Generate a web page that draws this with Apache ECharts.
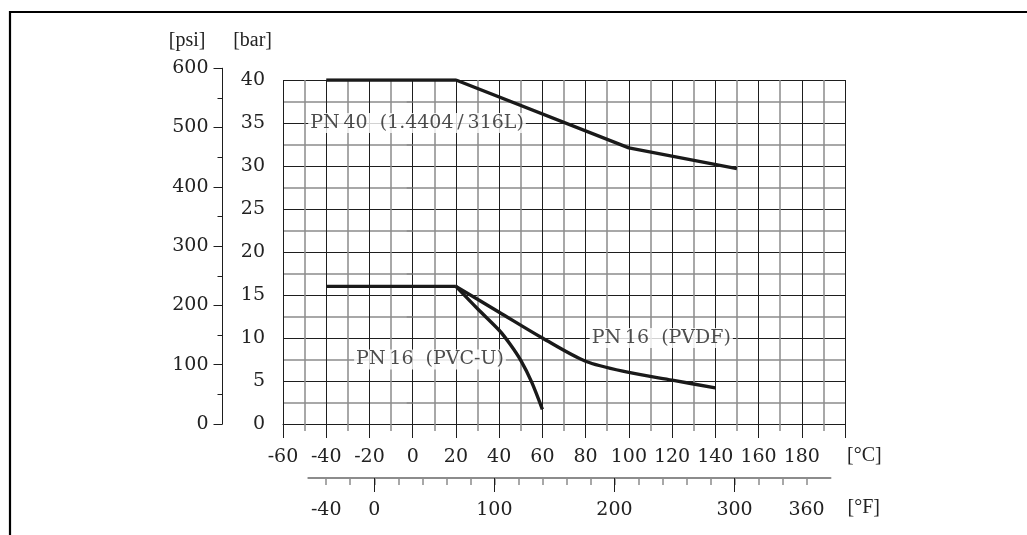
<!DOCTYPE html>
<html>
<head>
<meta charset="utf-8">
<script src="https://cdn.jsdelivr.net/npm/echarts@6/dist/echarts.min.js"></script>
<style>
html,body{margin:0;padding:0;background:#fff;}
#chart{width:1027px;height:535px;}
</style>
</head>
<body>
<div id="chart"></div>
<script>
// ---- data ----
const celsiusRange = [-60, 200];
const barRange = [0, 40];
const psiRange = [0, 600];
const fahrenheitRange = [-55, 380];
const fahrenheitTicks = [-40,-20,0,20,40,60,80,100,120,140,160,180,200,220,240,260,280,300,320,340,360];
const fahrenheitMajorTicks = [0,100,200,300];
const fahrenheitLabels = [-40,0,100,200,300,360];
const unitNames = {psi: '[psi]', bar: '[bar]', celsius: '[°C]', fahrenheit: '[°F]'};

const pn40 = [[-40,40],[20,40],[100,32.1],[150,29.7]];
const pn16Flat = [[-40,16],[20,16]];
const pn16PvcU = [[20,16],[30,13.4],[40,10.9],[45,9.3],[50,7.4],[55,4.9],[60,1.7]];
const pn16Pvdf = [[20,16],[40,13],[60,10],[80,7.3],[100,6],[120,5.1],[140,4.2]];
const annotations = [
  [2, 35, 'PN\u200940  (1.4404\u2009/\u2009316L)'],
  [115, 10, 'PN\u200916  (PVDF)'],
  [8, 7.5, 'PN\u200916  (PVC-U)']
];

// ---- layout ----
const W = 1027, H = 535;
const mainLeft = 283, mainRight = 182, mainTop = 80, mainBottom = 111;
const mainWidth = W - mainLeft - mainRight;
const mainHeight = H - mainTop - mainBottom;
const pxPerC = mainWidth / (celsiusRange[1] - celsiusRange[0]);
const pxPerBar = mainHeight / (barRange[1] - barRange[0]);
const psiPerBar = 14.5038;
const psiHeight = (psiRange[1] - psiRange[0]) / psiPerBar * pxPerBar;
const fToC = f => (f - 32) / 1.8;
const fLeft = mainLeft + (fToC(fahrenheitRange[0]) - celsiusRange[0]) * pxPerC;
const fWidth = (fToC(fahrenheitRange[1]) - fToC(fahrenheitRange[0])) * pxPerC;
const fAxisY = 478;
const cAxisY = H - mainBottom;
const psiAxisX = 222.5;

const txt = '#222';
const numFont = 'DejaVu Serif';
const unitFont = 'Liberation Serif';
const major = '#1e1e1e';
const minor = '#8c8c8c';
const lineColor = '#1a1a1a';

const chart = echarts.init(document.getElementById('chart'), null, {renderer:'canvas'});

const lineSeries = (data, smooth) => ({
  type: 'line', xAxisIndex: 0, yAxisIndex: 0, data: data,
  showSymbol: false, symbol: 'none', smooth: smooth ? 0.3 : false,
  lineStyle: {color: lineColor, width: 3.4, cap: 'butt', join: 'round'},
  z: 5, animation: false, silent: true
});

const unitText = (text, x, y, align) => ({
  type: 'text', silent: true, z: 10, x: x, y: y,
  style: {text: text, fill: txt, font: '20px "' + unitFont + '"', align: align, verticalAlign: 'middle'}
});

chart.setOption({
  animation: false,
  backgroundColor: '#fff',
  grid: [
    {left: mainLeft, right: mainRight, top: mainTop, bottom: mainBottom},
    {left: psiAxisX, width: 10, top: H - mainBottom - psiHeight, bottom: mainBottom},
    {left: fLeft, width: fWidth, top: fAxisY - 2, bottom: H - fAxisY}
  ],
  xAxis: [
    {
      type: 'value', gridIndex: 0, min: celsiusRange[0], max: celsiusRange[1], interval: 20,
      position: 'bottom',
      axisLine: {show: true, onZero: false, lineStyle: {color: major, width: 1}},
      axisTick: {show: true, length: 14, lineStyle: {color: major, width: 1}},
      minorTick: {show: true, splitNumber: 2, length: 7, lineStyle: {color: minor, width: 1.5}},
      splitLine: {show: true, lineStyle: {color: major, width: 1}},
      minorSplitLine: {show: true, lineStyle: {color: minor, width: 1.5}},
      axisLabel: {show: true, margin: 24, showMaxLabel: false, color: txt, fontFamily: numFont, fontSize: 19}
    },
    {
      type: 'value', gridIndex: 1, show: false, min: 0, max: 1
    },
    {
      type: 'value', gridIndex: 2, min: fahrenheitRange[0], max: fahrenheitRange[1],
      position: 'bottom',
      axisLine: {show: true, onZero: false, lineStyle: {color: minor, width: 1.8}},
      axisTick: {show: true, length: 7, customValues: fahrenheitTicks, lineStyle: {color: minor, width: 1.5}},
      splitLine: {show: false},
      axisLabel: {show: true, margin: 23, customValues: fahrenheitLabels, color: txt, fontFamily: numFont, fontSize: 19}
    },
    {
      type: 'value', gridIndex: 2, min: fahrenheitRange[0], max: fahrenheitRange[1],
      position: 'bottom',
      axisLine: {show: false},
      axisTick: {show: true, length: 14, customValues: fahrenheitMajorTicks, lineStyle: {color: major, width: 1}},
      splitLine: {show: false},
      axisLabel: {show: false}
    }
  ],
  yAxis: [
    {
      type: 'value', gridIndex: 0, min: barRange[0], max: barRange[1], interval: 5,
      axisLine: {show: false},
      axisTick: {show: true, length: 12, lineStyle: {color: major, width: 1}},
      minorTick: {show: true, splitNumber: 2, length: 6, lineStyle: {color: minor, width: 1.5}},
      splitLine: {show: true, lineStyle: {color: major, width: 1}},
      minorSplitLine: {show: true, lineStyle: {color: minor, width: 1.5}},
      axisLabel: {show: true, margin: 18, color: txt, fontFamily: numFont, fontSize: 19}
    },
    {
      type: 'value', gridIndex: 1, min: psiRange[0], max: psiRange[1], interval: 100,
      axisLine: {show: true, lineStyle: {color: major, width: 1}},
      axisTick: {show: true, length: 9, lineStyle: {color: major, width: 1}},
      minorTick: {show: true, splitNumber: 2, length: 5, lineStyle: {color: major, width: 1}},
      splitLine: {show: false},
      axisLabel: {show: true, margin: 14, color: txt, fontFamily: numFont, fontSize: 19}
    },
    {
      type: 'value', gridIndex: 2, show: false, min: 0, max: 1
    }
  ],
  series: [
    lineSeries(pn40, false),
    lineSeries(pn16Flat, false),
    lineSeries(pn16PvcU, true),
    lineSeries(pn16Pvdf, true),
    {
      type: 'scatter', xAxisIndex: 0, yAxisIndex: 0, symbolSize: 0, z: 4,
      data: annotations.map(a => ({value: [a[0], a[1]], name: a[2]})),
      label: {
        show: true, position: 'inside', formatter: p => p.name,
        color: txt, fontFamily: numFont, fontSize: 19,
        backgroundColor: '#fff', padding: [1, 2, 0, 2]
      },
      silent: true, animation: false
    }
  ],
  graphic: [
    {
      type: 'polyline', silent: true, z: 10,
      shape: {points: [[10, H], [10, 12], [W, 12]]},
      style: {stroke: '#000', lineWidth: 2.2, fill: null}
    },
    unitText(unitNames.psi, psiAxisX - 17, 41, 'right'),
    unitText(unitNames.bar, mainLeft - 11, 41, 'right'),
    unitText(unitNames.celsius, mainLeft + mainWidth + 2, cAxisY + 32, 'left'),
    unitText(unitNames.fahrenheit, fLeft + fWidth + 17, fAxisY + 30, 'left')
  ]
});
</script>
</body>
</html>
